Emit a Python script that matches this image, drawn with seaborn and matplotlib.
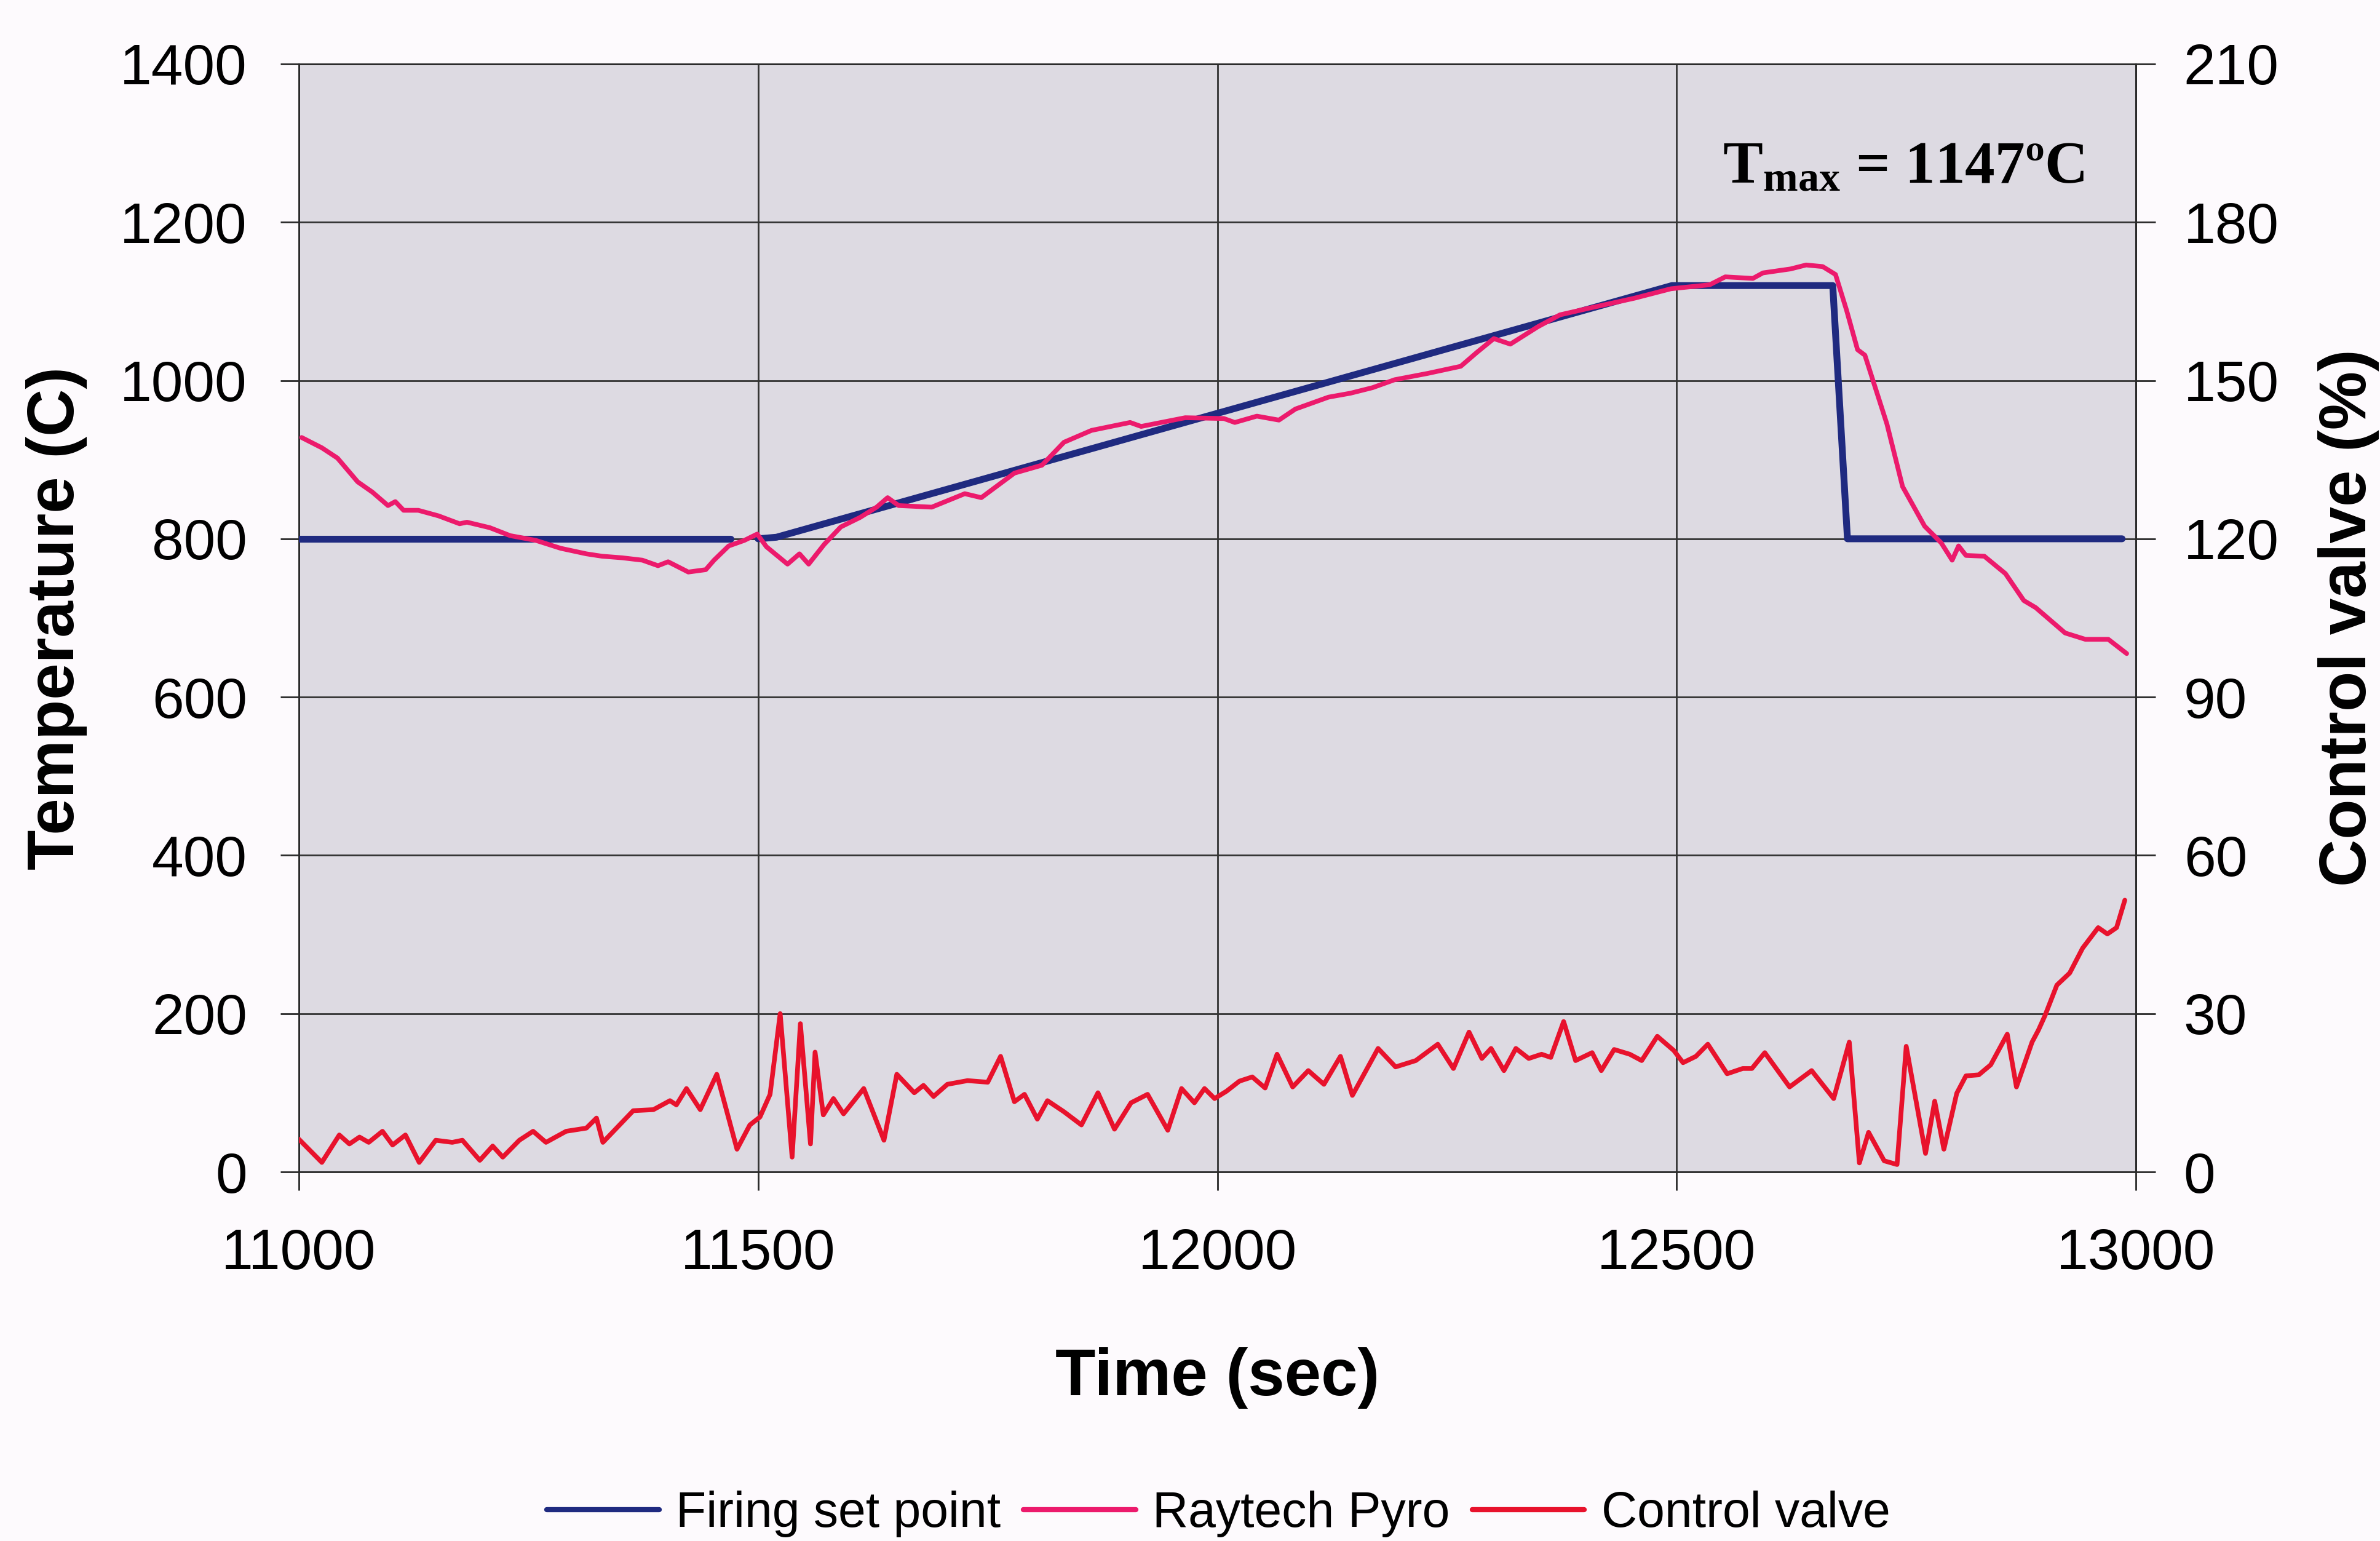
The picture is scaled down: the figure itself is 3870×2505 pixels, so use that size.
import numpy as np
import pandas as pd
import matplotlib
matplotlib.use("Agg")
import matplotlib.pyplot as plt
import seaborn as sns

# ---------------- data ----------------
setpoint_time = [11000, 11470, 11500, 11520, 12495, 12670, 12686, 12985]
setpoint_temp = [800, 800, 800, 802, 1120, 1120, 800, 800]
setpoint_seg = [0, 0, 1, 1, 1, 1, 1, 1]

pyro_time = [11003, 11025, 11042, 11064, 11080, 11097, 11105, 11114, 11130, 11152,
             11175, 11183, 11208, 11230, 11258, 11285, 11313, 11330, 11352, 11374,
             11391, 11402, 11424, 11443, 11452, 11468, 11485, 11499, 11509, 11532,
             11545, 11555, 11572, 11590, 11611, 11629, 11641, 11653, 11689, 11725,
             11743, 11779, 11809, 11833, 11863, 11905, 11917, 11965, 12007, 12019,
             12043, 12067, 12085, 12121, 12145, 12169, 12193, 12229, 12265, 12283,
             12301, 12319, 12349, 12373, 12407, 12454, 12494, 12536, 12553, 12583,
             12594, 12624, 12641, 12659, 12673, 12685, 12697, 12705, 12729, 12746,
             12770, 12788, 12800, 12807, 12815, 12835, 12858, 12878, 12891, 12905,
             12923, 12945, 12970, 12990]
pyro_temp = [928, 915, 902, 872, 859, 842, 847, 836, 836, 829,
             819, 821, 814, 804, 798, 788, 781, 778, 776, 773,
             766, 771, 758, 761, 773, 791, 798, 806, 790, 768,
             781, 768, 793, 815, 827, 840, 852, 842, 840, 857,
             852, 883, 893, 922, 937, 947, 942, 953, 952, 947,
             955, 950, 964, 979, 984, 991, 1001, 1009, 1018, 1036,
             1053, 1046, 1068, 1083, 1092, 1104, 1116, 1121, 1131, 1129,
             1136, 1141, 1146, 1144, 1134, 1089, 1039, 1032, 945, 866,
             816, 795, 773, 791, 779, 778, 756, 722, 713, 699,
             681, 673, 673, 655]

valve_time = [11000, 11025, 11044, 11055, 11066, 11076, 11091, 11102, 11116, 11131,
              11149, 11167, 11178, 11197, 11211, 11222, 11240, 11255, 11269, 11291,
              11313, 11324, 11331, 11364, 11386, 11404, 11411, 11422, 11437, 11455,
              11477, 11491, 11502, 11513, 11524, 11537, 11546, 11557, 11562, 11571,
              11582, 11593, 11615, 11637, 11651, 11670, 11680, 11691, 11706, 11728,
              11750, 11764, 11779, 11790, 11804, 11815, 11833, 11852, 11870, 11888,
              11906, 11924, 11946, 11961, 11975, 11986, 11997, 12010, 12024, 12038,
              12052, 12065, 12082, 12099, 12116, 12134, 12147, 12175, 12194, 12216,
              12240, 12257, 12274, 12288, 12298, 12312, 12325, 12339, 12353, 12363,
              12377, 12390, 12408, 12418, 12432, 12449, 12462, 12479, 12497, 12507,
              12521, 12534, 12555, 12572, 12582, 12596, 12623, 12647, 12671, 12688,
              12699, 12709, 12726, 12740, 12750, 12771, 12781, 12791, 12805, 12815,
              12829, 12842, 12860, 12870, 12887, 12894, 12901, 12914, 12928, 12942,
              12959, 12969, 12979, 12988]
valve_pct = [6.2, 1.8, 7.0, 5.3, 6.6, 5.6, 7.7, 5.1, 7.0, 1.8,
             6.0, 5.6, 6.0, 2.2, 4.9, 2.8, 6.0, 7.7, 5.6, 7.7,
             8.3, 10.2, 5.6, 11.6, 11.8, 13.5, 12.7, 15.8, 11.8, 18.5,
             4.3, 8.9, 10.4, 14.7, 30.0, 2.8, 28.1, 5.3, 22.7, 10.8,
             13.9, 11.0, 15.8, 6.0, 18.5, 15.0, 16.4, 14.3, 16.6, 17.3,
             17.0, 21.9, 13.3, 14.7, 10.0, 13.5, 11.4, 8.9, 15.0, 8.1,
             13.1, 14.7, 7.9, 15.8, 13.1, 15.8, 13.9, 15.3, 17.2, 18.0,
             15.9, 22.3, 16.1, 19.2, 16.6, 21.9, 14.5, 23.4, 19.9, 21.1,
             24.2, 19.6, 26.5, 21.5, 23.4, 19.2, 23.4, 21.5, 22.3, 21.7,
             28.5, 21.1, 22.6, 19.2, 23.2, 22.3, 21.1, 25.7, 23.0, 20.7,
             21.9, 24.2, 18.6, 19.6, 19.6, 22.6, 16.1, 19.2, 13.9, 24.6,
             1.7, 7.5, 2.1, 1.4, 23.8, 3.5, 13.4, 4.3, 14.9, 18.2,
             18.4, 20.3, 26.1, 16.1, 24.6, 26.9, 29.6, 35.4, 37.7, 42.4,
             46.3, 45.1, 46.3, 51.5]

x_ticks = [11000, 11500, 12000, 12500, 13000]
temp_ticks = [0, 200, 400, 600, 800, 1000, 1200, 1400]
valve_ticks = [0, 30, 60, 90, 120, 150, 180, 210]

series_labels = ["Firing set point", "Raytech Pyro", "Control valve"]
colors = {"Firing set point": "#1f2a80", "Raytech Pyro": "#ec1a6c", "Control valve": "#e8122c"}

# ---------------- style ----------------
sns.set_style("white")
plt.rcParams["font.family"] = ["Liberation Sans", "DejaVu Sans"]
plt.rcParams["mathtext.fontset"] = "custom"
plt.rcParams["mathtext.bf"] = "Liberation Serif:bold"
plt.rcParams["mathtext.rm"] = "Liberation Serif:bold"
for key in ["text.color", "axes.labelcolor", "xtick.color", "ytick.color"]:
    plt.rcParams[key] = "black"

W, H = 3870, 2505
fig = plt.figure(figsize=(W / 100, H / 100), dpi=100, facecolor="#fdfafd")
L, R, T, B = 486, 3473, 104, 1905
ax = fig.add_axes([L / W, 1 - B / H, (R - L) / W, (B - T) / H])
ax.set_facecolor("#dddae2")
ax2 = ax.twinx()

sp_df = pd.DataFrame({"time": setpoint_time, "temp": setpoint_temp, "seg": setpoint_seg})
py_df = pd.DataFrame({"time": pyro_time, "temp": pyro_temp})
cv_df = pd.DataFrame({"time": valve_time, "pct": valve_pct})

sns.lineplot(data=sp_df, x="time", y="temp", units="seg", estimator=None, sort=False,
             color=colors["Firing set point"], linewidth=8, ax=ax, label="Firing set point", zorder=3)
sns.lineplot(data=py_df, x="time", y="temp", estimator=None, sort=False,
             color=colors["Raytech Pyro"], linewidth=5.5, ax=ax, label="Raytech Pyro", zorder=4)
sns.lineplot(data=cv_df, x="time", y="pct", estimator=None, sort=False,
             color=colors["Control valve"], linewidth=5.5, ax=ax2, label="Control valve", zorder=4)

for a in (ax, ax2):
    if a.get_legend() is not None:
        a.get_legend().remove()

# axes limits / ticks
ax.set_xlim(11000, 13000)
ax.set_ylim(0, 1400)
ax2.set_ylim(0, 210)
ax.set_xticks(x_ticks)
ax.set_yticks(temp_ticks)
ax2.set_yticks(valve_ticks)

tick_fs = 67
ax.tick_params(axis="y", direction="out", length=21.6, width=2, color="#2a2a2a",
               pad=39, labelsize=tick_fs, left=True, labelcolor="black")
ax.tick_params(axis="x", direction="out", length=21.6, width=2, color="#2a2a2a",
               pad=44, labelsize=tick_fs, bottom=True, labelcolor="black")
ax2.tick_params(axis="y", direction="out", length=23, width=2, color="#2a2a2a",
                pad=33, labelsize=tick_fs, right=True, labelcolor="black")

# grid
ax.set_axisbelow(True)
ax.grid(True, which="major", color="#333333", lw=2.0)
ax2.grid(False)

for s in ax.spines.values():
    s.set_color("#2a2a2a")
    s.set_linewidth(2)
for s in ax2.spines.values():
    s.set_visible(False)
ax2.spines["right"].set_visible(True)
ax2.spines["right"].set_color("#2a2a2a")
ax2.spines["right"].set_linewidth(2)

# labels
lab_fs = 77
ax.set_xlabel("Time (sec)", fontsize=lab_fs, fontweight="bold", color="black")
ax.set_ylabel("Temperature (C)", fontsize=lab_fs, fontweight="bold", color="black")
ax2.set_ylabel("Control valve (%)", fontsize=lab_fs, fontweight="bold", color="black")
ax.xaxis.set_label_coords(0.5, -0.158)
ax.yaxis.set_label_coords(-0.115, 0.5)
ax2.yaxis.set_label_coords(1.099, 0.5)

# annotation
ax.text(12550, 1250, r"$\mathbf{T_{max}}$ = 1147ºC", fontsize=70, fontweight="bold",
        family=["Liberation Serif", "DejaVu Serif"], ha="left", va="baseline", color="black",
        zorder=5)

# legend
h1, l1 = ax.get_legend_handles_labels()
h2, l2 = ax2.get_legend_handles_labels()
handles, labels = [], []
for h, l in zip(h1 + h2, l1 + l2):
    if l in series_labels and l not in labels:
        handles.append(h)
        labels.append(l)
leg = fig.legend(handles, labels, loc="center", bbox_to_anchor=(0.512, 0.0176), ncol=3,
                 frameon=False, fontsize=58, handlelength=2.27, handletextpad=0.34,
                 columnspacing=0.45, labelcolor="black")
for line in leg.get_lines():
    line.set_linewidth(6)

fig.savefig("out.png", dpi=100, facecolor=fig.get_facecolor())
